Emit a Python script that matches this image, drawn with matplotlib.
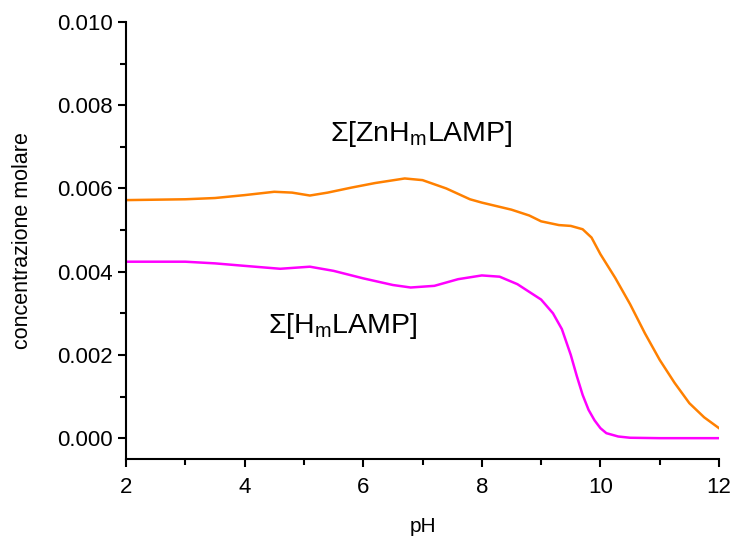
import numpy as np
import matplotlib.pyplot as plt

plt.rcParams['font.family'] = ['Liberation Sans', 'DejaVu Sans']

# valori
ph_zn = [2.0, 3.0, 3.5, 4.0, 4.5, 4.8, 5.1, 5.4, 5.8, 6.2, 6.7, 7.0, 7.4, 7.8, 8.0, 8.5, 8.8, 9.0, 9.3, 9.5, 9.7, 9.85, 10.0,
         10.25, 10.5, 10.75, 11.0, 11.25, 11.5, 11.75, 12.0]
conc_zn = [0.00572, 0.00574, 0.00577, 0.00584, 0.00592, 0.00590, 0.00583, 0.00590, 0.00602, 0.00613, 0.00624, 0.00620,
           0.00600, 0.00574, 0.00566, 0.00549, 0.00535, 0.00521, 0.00512, 0.00510, 0.00502, 0.00482, 0.00442,
           0.00385, 0.00322, 0.00252, 0.00188, 0.00133, 0.00084, 0.00050, 0.00024]

ph_h = [2.0, 3.0, 3.5, 4.0, 4.6, 5.1, 5.5, 6.0, 6.5, 6.8, 7.2, 7.6, 8.0, 8.3, 8.6, 9.0, 9.2, 9.35, 9.5, 9.6, 9.7, 9.8,
        9.9, 10.0, 10.1, 10.3, 10.5, 11.0, 12.0]
conc_h = [0.00424, 0.00424, 0.00420, 0.00414, 0.00407, 0.00412, 0.00402, 0.00384, 0.00368, 0.00362, 0.00366, 0.00382,
          0.00391, 0.00388, 0.00370, 0.00333, 0.00300, 0.00262, 0.00200, 0.00150, 0.00104, 0.00068,
          0.00043, 0.00024, 0.00012, 0.00004, 0.00001, 0.0, 0.0]

fig = plt.figure(figsize=(7.34, 5.36), dpi=100)
ax = fig.add_axes([0.1717, 0.1437, 0.8079, 0.8153])

ax.plot(ph_zn, conc_zn, color='#FF8000', lw=1.8)
ax.plot(ph_h, conc_h, color='#FF00FF', lw=1.8)

ax.set_xlim(2, 12)
ax.set_ylim(-0.0005, 0.010)
ax.set_xticks(np.arange(2, 13, 2))
ax.set_xticks(np.arange(3, 12, 2), minor=True)
ax.set_yticks(np.arange(0, 0.0101, 0.002))
ax.set_yticks(np.arange(0.001, 0.010, 0.002), minor=True)
ax.yaxis.set_major_formatter(plt.FormatStrFormatter('%.3f'))

ax.spines['top'].set_visible(False)
ax.spines['right'].set_visible(False)
for s in ['left', 'bottom']:
    ax.spines[s].set_linewidth(1.5)
ax.tick_params(which='major', direction='out', length=6, width=1.5, labelsize=16)
ax.tick_params(axis='x', which='major', pad=7)
ax.tick_params(which='minor', direction='out', length=4, width=1.5)

ax.set_xlabel('pH', fontsize=15, labelpad=14)
ax.set_ylabel('concentrazione molare', fontsize=15.5, labelpad=17)

ax.text(5.44, 0.00730, r'Σ[ZnH$_\mathregular{m}$LAMP]', fontsize=20.5, va='center')
ax.text(4.39, 0.00270, r'Σ[H$_\mathregular{m}$LAMP]', fontsize=20.5, va='center')

fig.savefig('out.png', dpi=100)
